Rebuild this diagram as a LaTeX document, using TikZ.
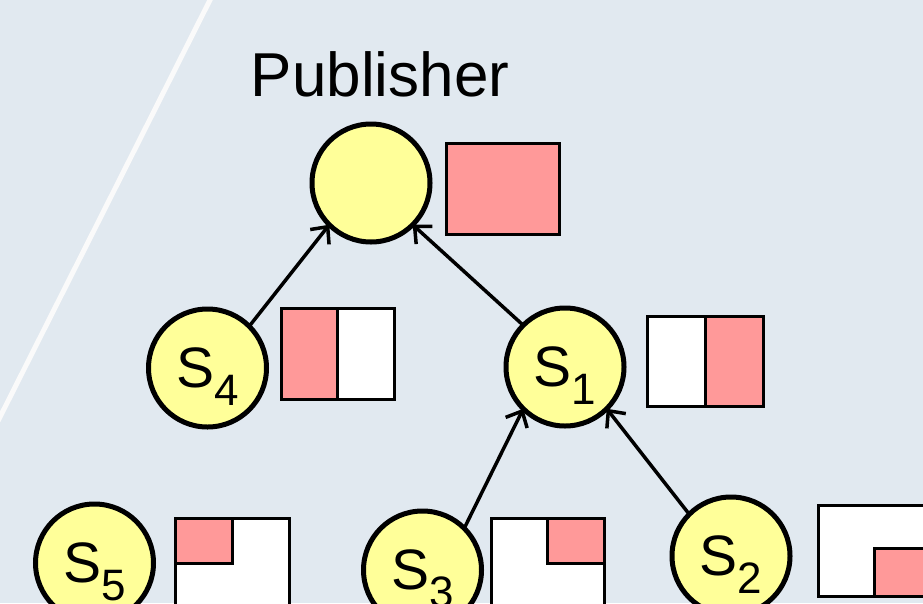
\documentclass[tikz,border=0pt]{standalone}
\usepackage{fontspec}
\setmainfont{Liberation Sans}
\usetikzlibrary{arrows.meta}

\definecolor{bgblue}{RGB}{225,233,240}
\definecolor{peeryellow}{RGB}{255,255,153}
\definecolor{bufpink}{RGB}{255,153,153}

% lowered index that does not change the node height
\newcommand{\subidx}[1]{\smash{\raisebox{-18pt}{\fontsize{44}{44}\selectfont #1}}}

\tikzset{
  peer/.style={circle, draw, line width=5pt, fill=peeryellow, minimum size=118pt,
    inner sep=0pt, outer sep=0pt, font=\fontsize{57}{57}\selectfont},
  buffer/.style={draw, line width=3pt, fill=white},
  link/.style={line width=3.5pt, -{Straight Barb[length=13pt,width=24pt]}}
}

\begin{document}
\begin{tikzpicture}[x=1pt, y=-1pt]
    % Background
    \fill[bgblue] (0,0) rectangle (923,603);
    \useasboundingbox (0,0) rectangle (923,603);
    \clip (0,0) rectangle (923,603);
    \draw[white!96!gray, line width=5pt] (212,-4) -- (-2,421);

    % Title
    \node[anchor=base, font=\fontsize{62}{62}\selectfont] (title) at (380,96) {Publisher};

    % Publisher and subscribers
    \node[peer] (pub) at (371,183) {};
    \node[peer] (s4) at (207.5,368) {S\subidx{4}};
    \node[peer] (s1) at (565,367) {S\subidx{1}};
    \node[peer] (s5) at (94.5,563) {S\subidx{5}};
    \node[peer] (s3) at (422.5,570) {S\subidx{3}};
    \node[peer] (s2) at (731,556) {S\subidx{2}};

    % Buffers next to each node
    \draw[buffer, fill=bufpink] (446,143) rectangle (559,234);

    \draw[buffer] (281,308) rectangle (394,399);
    \draw[buffer, fill=bufpink] (281,308) rectangle (337,399);

    \draw[buffer] (647,316) rectangle (763,406);
    \draw[buffer, fill=bufpink] (705,316) rectangle (763,406);

    \draw[buffer] (175,518) rectangle (289,608);
    \draw[buffer, fill=bufpink] (175,518) rectangle (232,563);

    \draw[buffer] (491,518) rectangle (604,608);
    \draw[buffer, fill=bufpink] (547,518) rectangle (604,563);

    \draw[buffer] (818,505) rectangle (931,596);
    \draw[buffer, fill=bufpink] (874,548) rectangle (931,596);

    % Links towards the publisher
    \draw[link] (s4.45) -- (pub.225);
    \draw[link] (s1.135) -- (pub.-45);
    \draw[link] (s3.45) -- (s1.225);
    \draw[link] (s2.135) -- (s1.-45);
\end{tikzpicture}
\end{document}
